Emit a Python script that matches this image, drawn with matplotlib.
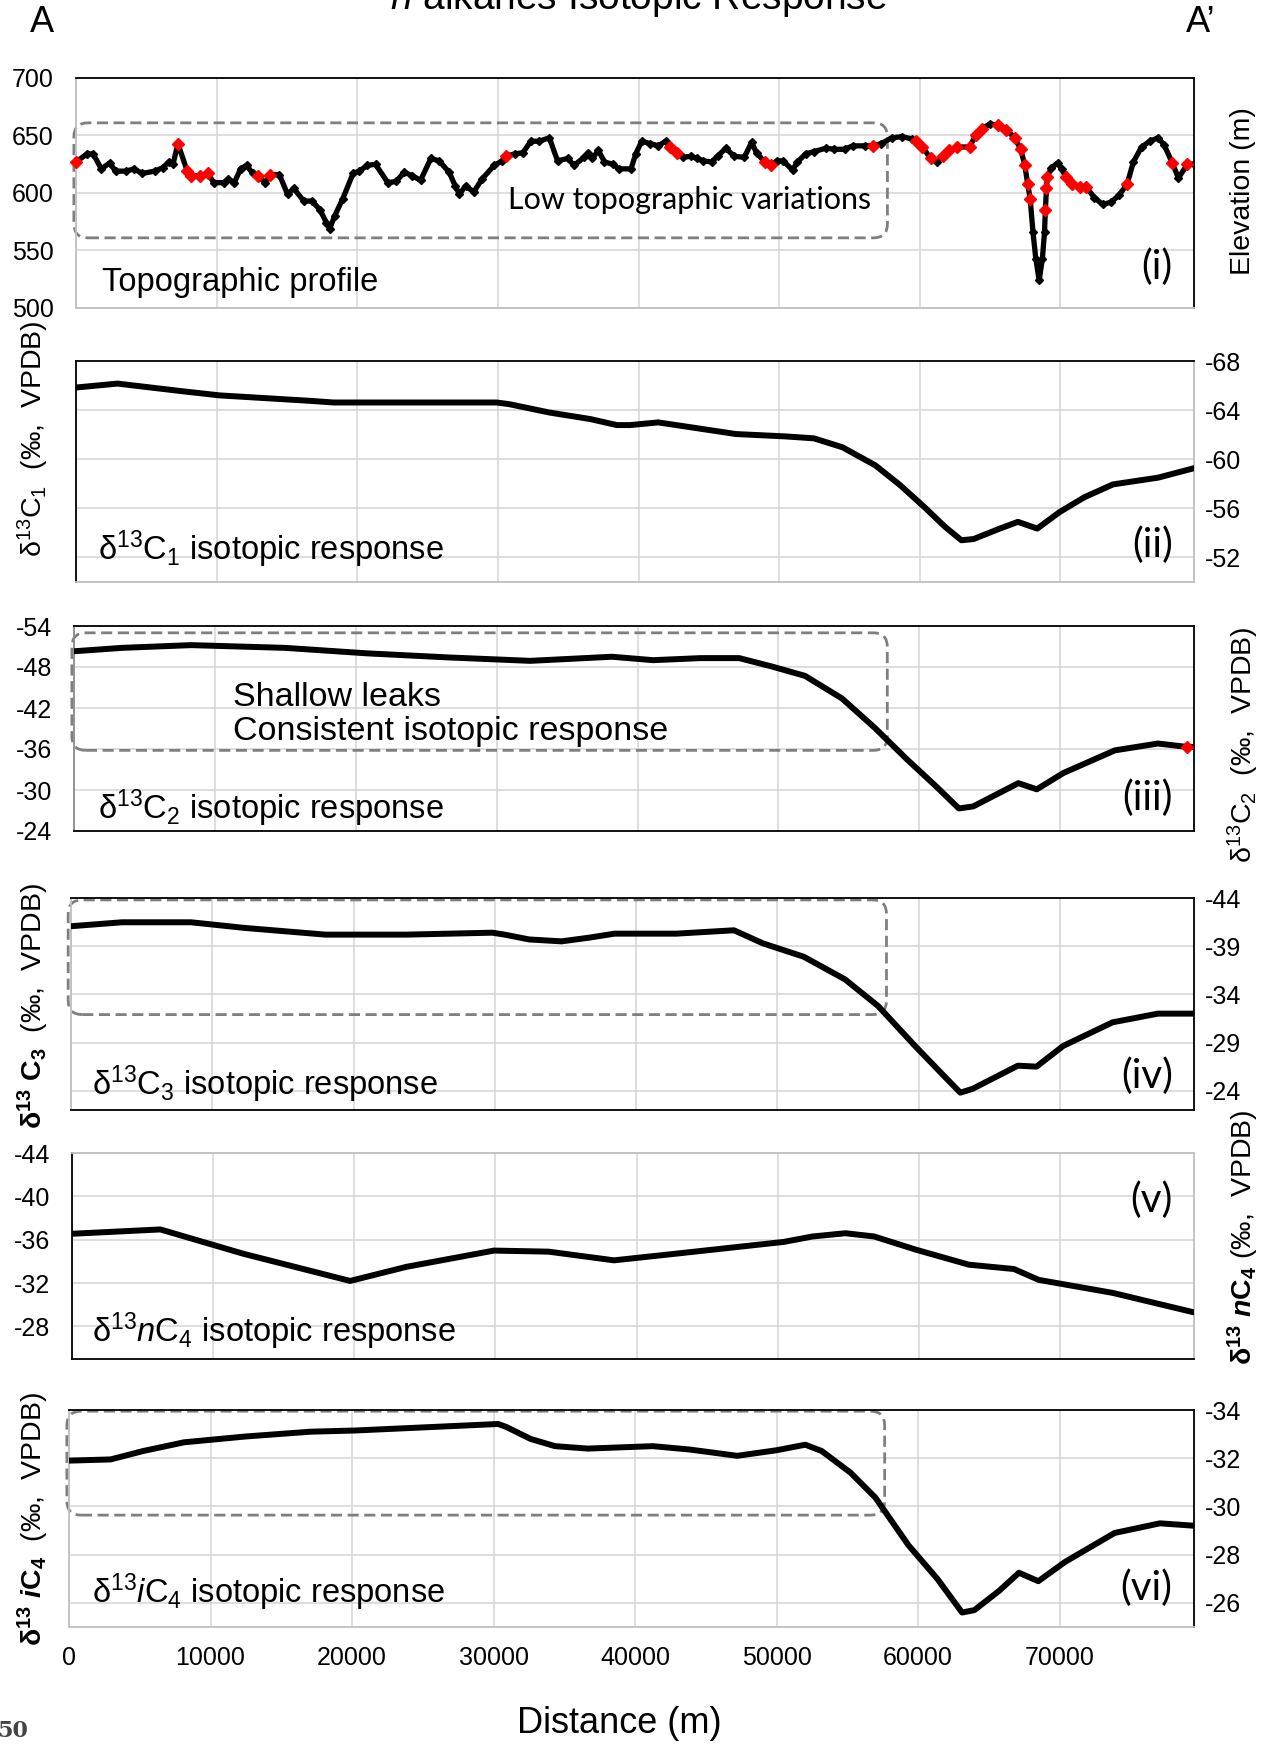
import numpy as np
import matplotlib
matplotlib.use("Agg")
import matplotlib.pyplot as plt
from matplotlib.patches import FancyBboxPatch

# ---- data ----
# topographic profile along A-A'
topo_dist = [0, 785, 1220, 1800, 2385, 2820, 3550, 4130, 4710, 5590, 6170, 6600, 6900, 7245,
             7910, 8200, 8790, 9370, 9800, 10530, 10820, 11260, 11700, 12130, 12570, 12920,
             13440, 13820, 14460, 15040, 15480, 16200, 16790, 17370, 17810, 18040, 18390,
             18970, 19700, 20130, 20720, 21300, 22170, 22760, 23340, 23920, 24500, 25230,
             25810, 26540, 26970, 27260, 27700, 28290, 28860, 29740, 30320, 30550, 31190,
             31770, 32350, 32930, 33660, 34240, 34970, 35410, 36130, 36420, 36710, 37150,
             37580, 38160, 38600, 39470, 39800, 40230, 40820, 41400, 41920, 42270, 42710,
             43150, 43730, 44170, 44600, 45190, 45620, 46210, 46790, 47520, 48040, 48390,
             48970, 49410, 49850, 50280, 50950, 51300, 51880, 52470, 53340, 53920, 54650,
             55230, 56100, 56690, 57270, 58000, 58730, 59460, 59750, 60190, 60770, 61210,
             61640, 62080, 62660, 63540, 63970, 64410, 64990, 65570, 66160, 66740, 67180,
             67470, 67670, 67850, 68050, 68250, 68490, 68720, 68870, 68930, 69010, 69070,
             69360, 69800, 70090, 70380, 70820, 71400, 71840, 72420, 73000, 73590, 74170,
             74750, 75190, 75770, 76360, 76940, 77370, 77960, 78390, 79030, 79500]
topo_elev = [627, 634, 634, 621, 626, 619, 619, 621, 617, 619, 622, 627, 625, 643,
             619, 615, 615, 617, 609, 609, 612, 609, 621, 624, 617, 615,
             609, 616, 616, 599, 604, 593, 593, 585, 574, 569, 580,
             595, 617, 619, 624, 625, 609, 610, 618, 615, 611, 630,
             628, 618, 606, 599, 606, 601, 612, 624, 628, 632, 634,
             635, 645, 645, 648, 628, 630, 624, 631, 635, 630, 637,
             627, 625, 621, 621, 634, 645, 643, 641, 645, 640, 635,
             631, 632, 630, 628, 627, 632, 639, 632, 631, 644, 635,
             627, 624, 628, 628, 620, 627, 634, 636, 639, 638, 638,
             641, 641, 641, 643, 648, 649, 647, 645, 640, 630, 627,
             632, 637, 640, 640, 650, 656, 660, 659, 655, 648, 638,
             624, 608, 595, 566, 543, 524, 543, 566, 585, 604, 614,
             622, 626, 621, 614, 608, 605, 605, 596, 590, 592, 598,
             608, 627, 640, 645, 648, 642, 626, 613, 625, 625]

# red sample points on the profile
sample_dist = [0, 7245, 7910, 8200, 8790, 9370, 12920, 13820, 30550, 42270, 42710, 48970,
               49410, 56690, 59750, 60190, 60770, 61640, 62080, 62660, 63540, 63970, 64410,
               65570, 66160, 66740, 67180, 67470, 67670, 67850, 68930, 69010, 69070, 70380,
               70820, 71400, 71840, 74750, 77960, 79030]
sample_elev = [627, 643, 619, 615, 615, 617, 615, 616, 632, 640, 635, 627,
               624, 641, 645, 640, 630, 632, 637, 640, 640, 650, 656,
               659, 655, 648, 638, 624, 608, 595, 585, 604, 614, 614,
               608, 605, 605, 608, 626, 625]

c1_dist = [0, 2960, 7310, 10200, 16580, 18320, 21800, 29910, 30780, 33680, 36580, 38460,
           39400, 41400, 43730, 46930, 50430, 52470, 54510, 56840, 58590, 60330, 61790,
           62960, 63830, 65580, 66980, 68350, 69950, 71700, 73740, 76950, 79500]
c1_val = [-65.84, -66.16, -65.57, -65.2, -64.76, -64.62, -64.62, -64.62, -64.49, -63.8,
          -63.27, -62.78, -62.78, -63.0, -62.6, -62.05, -61.86, -61.7, -60.97, -59.5, -57.9,
          -56.1, -54.5, -53.4, -53.5, -54.3, -54.9, -54.35, -55.7, -56.9, -57.95, -58.5,
          -59.27]

c2_dist = [0, 3390, 8320, 14990, 20780, 26580, 32380, 38180, 41110, 44460, 47220, 49560,
           51890, 54510, 56840, 59170, 61210, 62810, 63830, 67030, 68340, 70240, 73880,
           76940, 79030, 79500]
c2_val = [-50.3, -50.8, -51.2, -50.8, -50.0, -49.4, -48.9, -49.5, -49.0, -49.3, -49.3,
          -48.06, -46.7, -43.4, -39.1, -34.4, -30.5, -27.3, -27.6, -31.0, -30.1, -32.5,
          -35.8, -36.8, -36.3, -36.3]

c3_dist = [0, 3600, 8500, 12250, 18010, 23780, 29830, 30700, 32420, 34730, 36750, 38470,
           42850, 46930, 48970, 51880, 54800, 57130, 59750, 61790, 62960, 63830, 67030,
           68350, 70240, 73740, 76940, 79500]
c3_val = [-41.07, -41.48, -41.48, -40.9, -40.2, -40.2, -40.4, -40.2, -39.7, -39.5, -39.9,
          -40.3, -40.3, -40.65, -39.3, -37.9, -35.55, -32.8, -28.65, -25.55, -23.8, -24.2,
          -26.6, -26.5, -28.65, -31.1, -32.0, -32.0]

nc4_dist = [0, 6260, 12160, 19710, 23690, 29900, 33780, 38400, 42270, 46640, 50430, 52470,
            54800, 56840, 59750, 63540, 66740, 68490, 73730, 79500]
nc4_val = [-36.55, -36.95, -34.7, -32.2, -33.5, -35.0, -34.9, -34.1, -34.64, -35.26, -35.8,
           -36.3, -36.6, -36.3, -35.1, -33.7, -33.3, -32.3, -31.1, -29.3]

ic4_dist = [0, 2940, 5250, 8130, 12450, 17060, 20230, 23980, 30320, 30890, 32620, 34350,
            36660, 41250, 43870, 47220, 49990, 52030, 53190, 55230, 56980, 59310, 61360,
            63110, 63980, 65730, 67130, 68500, 70390, 73890, 77090, 79500]
ic4_val = [-31.9, -31.95, -32.3, -32.66, -32.9, -33.1, -33.15, -33.25, -33.42, -33.3, -32.8,
           -32.5, -32.4, -32.5, -32.36, -32.1, -32.33, -32.56, -32.3, -31.4, -30.37, -28.4,
           -27.0, -25.6, -25.7, -26.5, -27.25, -26.9, -27.7, -28.9, -29.3, -29.2]

x_ticks = list(range(0, 80000, 10000))

# ---- style ----
plt.rcParams['font.family'] = ['Liberation Sans', 'DejaVu Sans']
plt.rcParams['axes.unicode_minus'] = False
plt.rcParams['mathtext.fontset'] = 'custom'
plt.rcParams['mathtext.rm'] = 'Liberation Sans'
plt.rcParams['mathtext.it'] = 'Liberation Sans:italic'
plt.rcParams['mathtext.bf'] = 'Liberation Sans:bold'
plt.rcParams['mathtext.bfit'] = 'Liberation Sans:bold:italic'

W, H = 1273, 1744
fig = plt.figure(figsize=(W / 100, H / 100), dpi=100)

GRID = '#d4d4d4'
BOX = '#7f7f7f'
GRAY_SPINE = '#bfbfbf'
RIGHT = 1194

# panel layout in pixels: left, top, bottom
layout = [(76, 78, 308), (76, 361, 582), (74, 626, 831),
          (71, 898, 1110), (72, 1153, 1359), (69, 1410, 1627)]


def make_axes(i):
    l, t, b = layout[i]
    return fig.add_axes([l / W, 1 - b / H, (RIGHT - l) / W, (b - t) / H])


def style_axes(ax, ylim, yticks, side, spines, xlabels=False):
    ax.set_xlim(0, 79500)
    ax.set_ylim(*ylim)
    ax.set_xticks(x_ticks)
    ax.set_yticks(yticks)
    ax.grid(True, color=GRID, lw=1.1)
    ax.set_axisbelow(True)
    ax.tick_params(length=0, labelsize=18)
    if side == 'right':
        ax.yaxis.tick_right()
        ax.tick_params(axis='y', pad=8)
    else:
        ax.tick_params(axis='y', pad=16)
    ax.tick_params(axis='x', labelbottom=xlabels, pad=14)
    for name, col in zip(['top', 'bottom', 'left', 'right'], spines):
        ax.spines[name].set_color(col)
        ax.spines[name].set_linewidth(1.3)


def dashed_box(ax, x0, x1, y0, y1, r=0.0125):
    # go to axes fraction so the corner rounding stays circular
    fx0, fy0 = ax.transLimits.transform((x0, y0))
    fx1, fy1 = ax.transLimits.transform((x1, y1))
    pos = ax.get_position()
    aspect = (pos.width * W) / (pos.height * H)
    box = FancyBboxPatch((min(fx0, fx1), min(fy0, fy1)), abs(fx1 - fx0), abs(fy1 - fy0),
                         boxstyle=f"round,pad=0,rounding_size={r}", mutation_aspect=aspect,
                         transform=ax.transAxes, fill=False, ec=BOX, lw=2.0,
                         ls=(0, (4, 2)), clip_on=False, zorder=1)
    ax.add_patch(box)


def roman(ax, s, y):
    ax.text(0.981, y, s, transform=ax.transAxes, ha='right', va='center',
            fontsize=29, family='Lato')


def panel_text(ax, s, x, y, size=23.5):
    ax.text(x, y, s, transform=ax.transAxes, ha='left', va='center', fontsize=size)


line_kw = dict(color='black', lw=4.3, solid_joinstyle='round', solid_capstyle='round', zorder=3)

# (i) topographic profile
ax1 = make_axes(0)
style_axes(ax1, (500, 700), [500, 550, 600, 650, 700], 'left', ['k', GRAY_SPINE, GRAY_SPINE, 'k'])
ax1.plot(topo_dist, topo_elev, color='black', lw=3.8, marker='D', ms=4,
         solid_joinstyle='round', zorder=3)
ax1.plot(sample_dist, sample_elev, ls='none', marker='D', ms=6.5, color='red', zorder=4, clip_on=False)
dashed_box(ax1, -150, 57700, 561, 661)
panel_text(ax1, 'Topographic profile', 0.023, 0.113)
ax1.text(0.386, 0.47, 'Low topographic variations', transform=ax1.transAxes, ha='left',
         va='center', fontsize=22, family='Lato')
roman(ax1, '(i)', 0.178)

# (ii) d13C1
ax2 = make_axes(1)
style_axes(ax2, (-50, -68), [-68, -64, -60, -56, -52], 'right', ['k', GRAY_SPINE, 'k', GRAY_SPINE])
ax2.plot(c1_dist, c1_val, **line_kw)
panel_text(ax2, r'δ$^{13}$C$_1$ isotopic response', 0.02, 0.148)
roman(ax2, '(ii)', 0.166)

# (iii) d13C2
ax3 = make_axes(2)
style_axes(ax3, (-24, -54), [-54, -48, -42, -36, -30, -24], 'left', ['k', 'k', '#8c8c8c', 'k'])
ax3.plot(c2_dist, c2_val, **line_kw)
ax3.plot([c2_dist[-2]], [c2_val[-2]], ls='none', marker='D', ms=6.5, color='red', zorder=4)
dashed_box(ax3, -150, 57730, -53.0, -35.8)
panel_text(ax3, 'Shallow leaks', 0.142, 0.653, size=24.5)
panel_text(ax3, 'Consistent isotopic response', 0.142, 0.485, size=24.5)
panel_text(ax3, r'δ$^{13}$C$_2$ isotopic response', 0.021, 0.11)
roman(ax3, '(iii)', 0.16)

# (iv) d13C3
ax4 = make_axes(3)
style_axes(ax4, (-22, -44), [-44, -39, -34, -29, -24], 'right', ['k', 'k', GRAY_SPINE, 'k'])
ax4.plot(c3_dist, c3_val, **line_kw)
dashed_box(ax4, -200, 57730, -43.8, -31.9)
panel_text(ax4, r'δ$^{13}$C$_3$ isotopic response', 0.019, 0.12)
roman(ax4, '(iv)', 0.16)

# (v) d13 nC4
ax5 = make_axes(4)
style_axes(ax5, (-25, -44), [-44, -40, -36, -32, -28], 'left', [GRAY_SPINE, 'k', 'k', GRAY_SPINE])
ax5.plot(nc4_dist, nc4_val, **line_kw)
panel_text(ax5, r'δ$^{13}$$n$C$_4$ isotopic response', 0.018, 0.134)
roman(ax5, '(v)', 0.77)

# (vi) d13 iC4
ax6 = make_axes(5)
style_axes(ax6, (-25, -34), [-34, -32, -30, -28, -26], 'right', ['k', GRAY_SPINE, GRAY_SPINE, 'k'],
           xlabels=True)
ax6.plot(ic4_dist, ic4_val, **line_kw)
dashed_box(ax6, -150, 57640, -33.95, -29.64)
panel_text(ax6, r'δ$^{13}$$i$C$_4$ isotopic response', 0.02, 0.16)
roman(ax6, '(vi)', 0.18)

# axis titles placed by hand (pixel centres)
def side_label(s, x, y, size=20.5):
    fig.text(x / W, 1 - y / H, s, rotation=90, ha='center', va='center', fontsize=size)

side_label('Elevation (m)', 1243, 191)
side_label(r'δ$^{13}$C$_1$  (‰,  VPDB)', 33, 439)
side_label(r'δ$^{13}$C$_2$  (‰,  VPDB)', 1243, 745)
side_label(r'$\mathbf{δ^{13}\ C_3}$  (‰,  VPDB)', 33, 1006)
side_label(r'$\mathbf{δ^{13}}\ \mathbfit{n}\mathbf{C_4}$ (‰,  VPDB)', 1243, 1237)
side_label(r'$\mathbf{δ^{13}}\ \mathbfit{i}\mathbf{C_4}$  (‰,  VPDB)', 33, 1519)

fig.text(619 / W, 1 - 1723 / H, 'Distance (m)', ha='center', va='center', fontsize=26)
# title sits partly above the page edge, as in the source figure
fig.text(639 / W, 1 - 9 / H, r'$n$ alkanes Isotopic Response', ha='center', va='baseline', fontsize=28)
fig.text(42 / W, 1 - 22 / H, 'A', ha='center', va='center', fontsize=26)
fig.text(1201 / W, 1 - 22 / H, 'A’', ha='center', va='center', fontsize=26)
fig.text(-3 / W, 1 - 1731 / H, '50', ha='left', va='center', fontsize=16,
         family='DejaVu Serif', weight='bold', color='#444444')

fig.savefig('out.png', dpi=100, facecolor='white')
